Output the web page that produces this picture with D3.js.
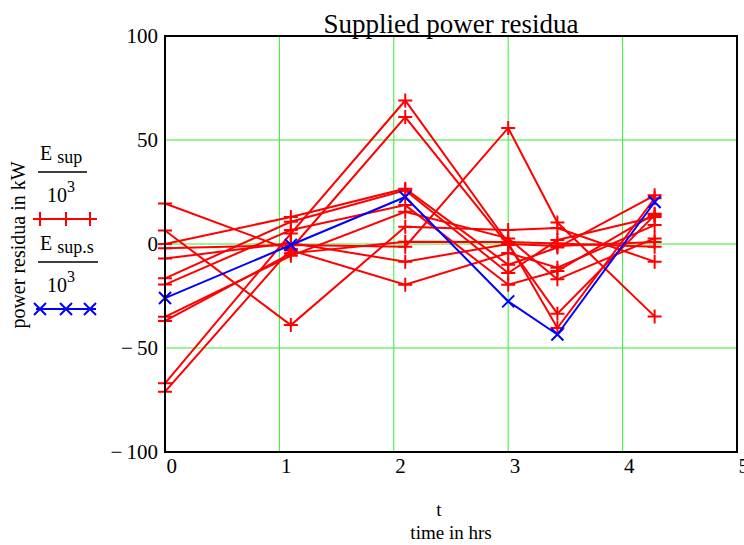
<!DOCTYPE html>
<meta charset="utf-8">
<style>
  body { margin: 0; background: #fff; }
  text { font-family: "Liberation Serif", "Times New Roman", serif; fill: #000; }
</style>
<div class="chart"></div>
<script src="https://cdn.jsdelivr.net/npm/d3@7/dist/d3.min.js"></script>
<script>
  // sample times (hrs)
  var tVals = [0, 1.1, 2.1, 3.0, 3.43, 4.28];

  // E_sup / 10^3, one array per curve (kW)
  var esup1 = [-67, 5, 69, 0.5, -40.4, 22];
  var esup2 = [-71, -2.4, 61, -0.5, -33.5, 13.9];
  var esup3 = [-2, -0.5, -1.3, 55.8, 10.3, -34.8];
  var esup4 = [6.5, -39, 8.3, 6.7, 7.7, -8.5];
  var esup5 = [19.5, -3, -19.6, -4.3, -11.4, 9.1];
  var esup6 = [0, 13, 26.6, -10, -1.7, 23.4];
  var esup7 = [-16.5, 10.7, 25.8, -14, 1.9, 13];
  var esup8 = [-19.5, 6.7, 18.7, -19.6, -13, 14.5];
  var esup9 = [-35, -5.7, 15.5, 2.7, -17, 2.7];
  var esup10 = [-37, -4.5, 1.1, 1, 0.3, -1.3];
  var esup11 = [-7, 0.5, -8.5, 0, -1, 1];
  var redSeries = [esup1, esup2, esup3, esup4, esup5, esup6, esup7, esup8, esup9, esup10, esup11];

  // E_sup.s / 10^3
  var esups = [-26, -0.5, 22.6, -27.6, -43.5, 20.2];

  var xTicks = [0, 1, 2, 3, 4, 5];
  var yTicks = [-100, -50, 0, 50, 100];

  var W = 744, H = 545;
  var plot = {left: 165, right: 737, top: 36, bottom: 452};

  var x = d3.scaleLinear().domain([0, 5]).range([plot.left, plot.right]);
  var y = d3.scaleLinear().domain([-100, 100]).range([plot.bottom, plot.top]);

  var svg = d3.select(".chart").append("svg")
      .attr("width", W).attr("height", H);

  // grid
  var grid = svg.append("g").attr("stroke", "#33ee33").attr("stroke-width", 1);
  grid.selectAll(".gx").data(xTicks).enter().append("line")
      .attr("x1", d => x(d)).attr("x2", d => x(d))
      .attr("y1", plot.top).attr("y2", plot.bottom);
  grid.selectAll(".gy").data(yTicks).enter().append("line")
      .attr("x1", plot.left).attr("x2", plot.right)
      .attr("y1", d => y(d)).attr("y2", d => y(d));

  // series
  var line = d3.line().x((d, i) => x(tVals[i])).y(d => y(d));

  function plus(g, cx, cy, r) {
    g.append("path").attr("d", "M" + (cx - r) + "," + cy + "H" + (cx + r) + "M" + cx + "," + (cy - r) + "V" + (cy + r));
  }
  function cross(g, cx, cy, r) {
    g.append("path").attr("d", "M" + (cx - r) + "," + (cy - r) + "L" + (cx + r) + "," + (cy + r) +
      "M" + (cx - r) + "," + (cy + r) + "L" + (cx + r) + "," + (cy - r));
  }

  var reds = svg.append("g").attr("fill", "none").attr("stroke", "#ff0000").attr("stroke-width", 2);
  redSeries.forEach(function (s) {
    reds.append("path").attr("d", line(s));
    s.forEach(function (v, i) { plus(reds, x(tVals[i]), y(v), 7); });
  });

  var blues = svg.append("g").attr("fill", "none").attr("stroke", "#0000ff").attr("stroke-width", 2);
  blues.append("path").attr("d", line(esups));
  esups.forEach(function (v, i) { cross(blues, x(tVals[i]), y(v), 6); });

  // frame
  svg.append("rect")
      .attr("x", plot.left).attr("y", plot.top)
      .attr("width", plot.right - plot.left).attr("height", plot.bottom - plot.top)
      .attr("fill", "none").attr("stroke", "#000").attr("stroke-width", 2);

  // axes
  var yAxis = d3.axisLeft(y).tickValues(yTicks).tickSize(0).tickPadding(7)
      .tickFormat(d => d < 0 ? "\u2212\u2009" + Math.abs(d) : d);
  var gy = svg.append("g").attr("transform", "translate(" + plot.left + ",0)").call(yAxis);
  gy.select(".domain").remove();
  gy.selectAll("text").style("font-family", "Liberation Serif").style("font-size", "21px");

  var xAxis = d3.axisBottom(x).tickValues(xTicks).tickSize(0).tickPadding(6)
      .tickFormat(d3.format("d"));
  var gx = svg.append("g").attr("transform", "translate(0," + plot.bottom + ")").call(xAxis);
  gx.select(".domain").remove();
  gx.selectAll("text").style("font-family", "Liberation Serif").style("font-size", "21px")
      .attr("text-anchor", "start").attr("dx", "1");

  // title
  svg.append("text").attr("x", 451).attr("y", 33).attr("text-anchor", "middle")
      .style("font-size", "27px").text("Supplied power residua");

  // axis labels
  svg.append("text").attr("transform", "translate(25,245) rotate(-90)")
      .attr("text-anchor", "middle").style("font-size", "20px").text("power residua in kW");
  svg.append("text").attr("x", 439).attr("y", 516).attr("text-anchor", "middle")
      .style("font-size", "19px").text("t");
  svg.append("text").attr("x", 451).attr("y", 539).attr("text-anchor", "middle")
      .style("font-size", "19px").text("time in hrs");

  // legend
  function legendEntry(top, sub, lineW, color, marker) {
    var g = svg.append("g");
    var e = g.append("text").attr("x", 40).attr("y", top).style("font-size", "20px");
    e.append("tspan").text("E");
    e.append("tspan").attr("dx", 5).attr("dy", 3).style("font-size", "18px").text(sub);
    g.append("line").attr("x1", 38).attr("x2", 38 + lineW)
        .attr("y1", top + 12).attr("y2", top + 12).attr("stroke", "#000").attr("stroke-width", 1.5);
    var d = g.append("text").attr("x", 47).attr("y", top + 42).style("font-size", "20px");
    d.append("tspan").text("10");
    d.append("tspan").attr("dy", -10).style("font-size", "16px").text("3");
    var ly = top + 59;
    var m = g.append("g").attr("fill", "none").attr("stroke", color).attr("stroke-width", 2);
    m.append("line").attr("x1", 36).attr("x2", 96).attr("y1", ly).attr("y2", ly);
    [40, 66, 90].forEach(function (cx) { marker(m, cx, ly, marker === plus ? 7 : 6); });
  }
  legendEntry(160, "sup", 49, "#ff0000", plus);
  legendEntry(250, "sup.s", 60, "#0000ff", cross);
</script>
